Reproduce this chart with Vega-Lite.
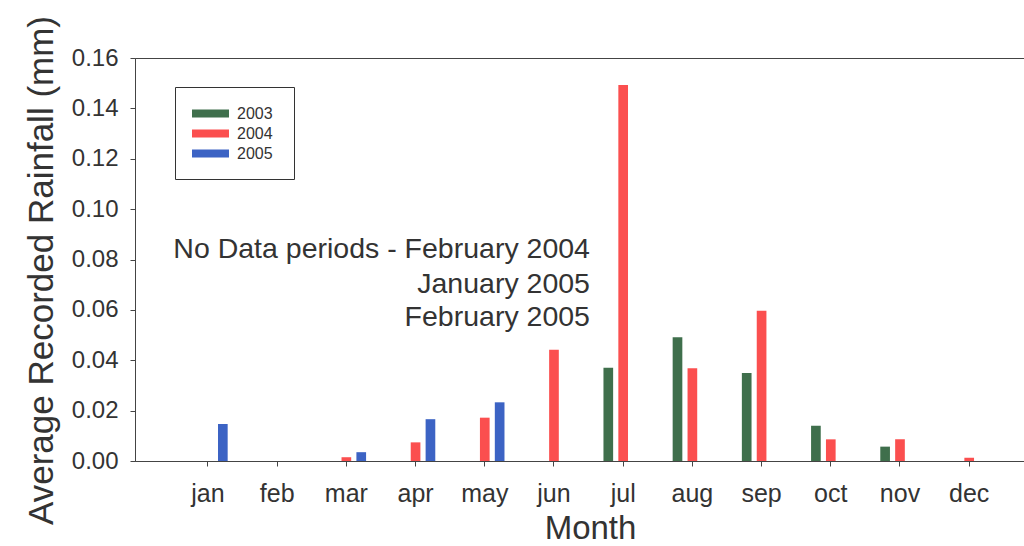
{
  "$schema": "https://vega.github.io/schema/vega-lite/v6.json",
  "width": 889,
  "height": 403,
  "autosize": {"type": "none"},
  "padding": {"left": 135, "top": 58, "right": 0, "bottom": 85},
  "background": "white",
  "config": {
    "view": {"stroke": "#444", "strokeWidth": 1},
    "font": "Liberation Sans",
    "text": {"font": "Liberation Sans"}
  },
  "layer": [
    {
      "data": {
        "values": [
          {"month": "jan", "year": "2005", "rainfall": 0.0147},
          {"month": "mar", "year": "2004", "rainfall": 0.0015},
          {"month": "mar", "year": "2005", "rainfall": 0.0035},
          {"month": "apr", "year": "2004", "rainfall": 0.0074},
          {"month": "apr", "year": "2005", "rainfall": 0.0166},
          {"month": "may", "year": "2004", "rainfall": 0.0172},
          {"month": "may", "year": "2005", "rainfall": 0.0233},
          {"month": "jun", "year": "2004", "rainfall": 0.0442},
          {"month": "jul", "year": "2003", "rainfall": 0.0370},
          {"month": "jul", "year": "2004", "rainfall": 0.1493},
          {"month": "aug", "year": "2003", "rainfall": 0.0491},
          {"month": "aug", "year": "2004", "rainfall": 0.0368},
          {"month": "sep", "year": "2003", "rainfall": 0.0349},
          {"month": "sep", "year": "2004", "rainfall": 0.0597},
          {"month": "oct", "year": "2003", "rainfall": 0.0140},
          {"month": "oct", "year": "2004", "rainfall": 0.0086},
          {"month": "nov", "year": "2003", "rainfall": 0.0057},
          {"month": "nov", "year": "2004", "rainfall": 0.0086},
          {"month": "dec", "year": "2004", "rainfall": 0.0013}
        ]
      },
      "mark": {"type": "bar"},
      "encoding": {
        "x": {
          "field": "month",
          "type": "nominal",
          "sort": ["jan", "feb", "mar", "apr", "may", "jun", "jul", "aug", "sep", "oct", "nov", "dec"],
          "scale": {
            "domain": ["jan", "feb", "mar", "apr", "may", "jun", "jul", "aug", "sep", "oct", "nov", "dec"],
            "paddingInner": 0,
            "paddingOuter": 0.423,
            "align": 0.655
          },
          "title": "Month",
          "axis": {
            "labelAngle": 0,
            "labelFontSize": 25,
            "labelColor": "#333",
            "labelPadding": 15,
            "tickSize": 5,
            "tickColor": "#444",
            "domainColor": "#444",
            "titleFontSize": 33,
            "titleFontWeight": "normal",
            "titleColor": "#333",
            "titlePadding": 6,
            "titleX": 455
          }
        },
        "xOffset": {
          "field": "year",
          "type": "nominal",
          "scale": {"domain": ["2003", "2004", "2005"], "paddingInner": 0.35, "paddingOuter": 1.09}
        },
        "y": {
          "field": "rainfall",
          "type": "quantitative",
          "scale": {"domain": [0, 0.16], "nice": false},
          "title": "Average Recorded Rainfall (mm)",
          "axis": {
            "values": [0, 0.02, 0.04, 0.06, 0.08, 0.1, 0.12, 0.14, 0.16],
            "format": ".2f",
            "grid": false,
            "labelFontSize": 24,
            "labelColor": "#333",
            "labelPadding": 12,
            "tickSize": 5,
            "tickColor": "#444",
            "domainColor": "#444",
            "titleFontSize": 35,
            "titleFontWeight": "normal",
            "titleColor": "#333",
            "titlePadding": 12,
            "titleY": 212
          }
        },
        "color": {
          "field": "year",
          "type": "nominal",
          "scale": {"domain": ["2003", "2004", "2005"], "range": ["#3f6f4c", "#fb4f4f", "#3c63c4"]},
          "legend": {
            "orient": "none",
            "legendX": 40,
            "legendY": 29,
            "direction": "vertical",
            "title": " ",
            "titleOrient": "right",
            "titlePadding": 4,
            "titleFontSize": 12,
            "padding": 17,
            "strokeColor": "#333",
            "fillColor": "white",
            "symbolType": "M-2,-0.44H2V0.44H-2Z",
            "symbolSize": 342,
            "symbolStrokeWidth": 0,
            "symbolOpacity": 1,
            "symbolOffset": 9,
            "rowPadding": 2,
            "labelFontSize": 16,
            "labelColor": "#333",
            "labelOffset": 17
          }
        }
      }
    },
    {
      "data": {
        "values": [
          {"month": "jun", "rainfall": 0.0842, "label": "No Data periods - February 2004"},
          {"month": "jun", "rainfall": 0.0703, "label": "January 2005"},
          {"month": "jun", "rainfall": 0.0572, "label": "February 2005"}
        ]
      },
      "mark": {"type": "text", "align": "right", "baseline": "middle", "dx": 36, "fontSize": 28.5, "color": "#333"},
      "encoding": {
        "x": {"field": "month", "type": "nominal", "title": "Month"},
        "y": {"field": "rainfall", "type": "quantitative", "title": "Average Recorded Rainfall (mm)"},
        "text": {"field": "label"}
      }
    }
  ]
}
